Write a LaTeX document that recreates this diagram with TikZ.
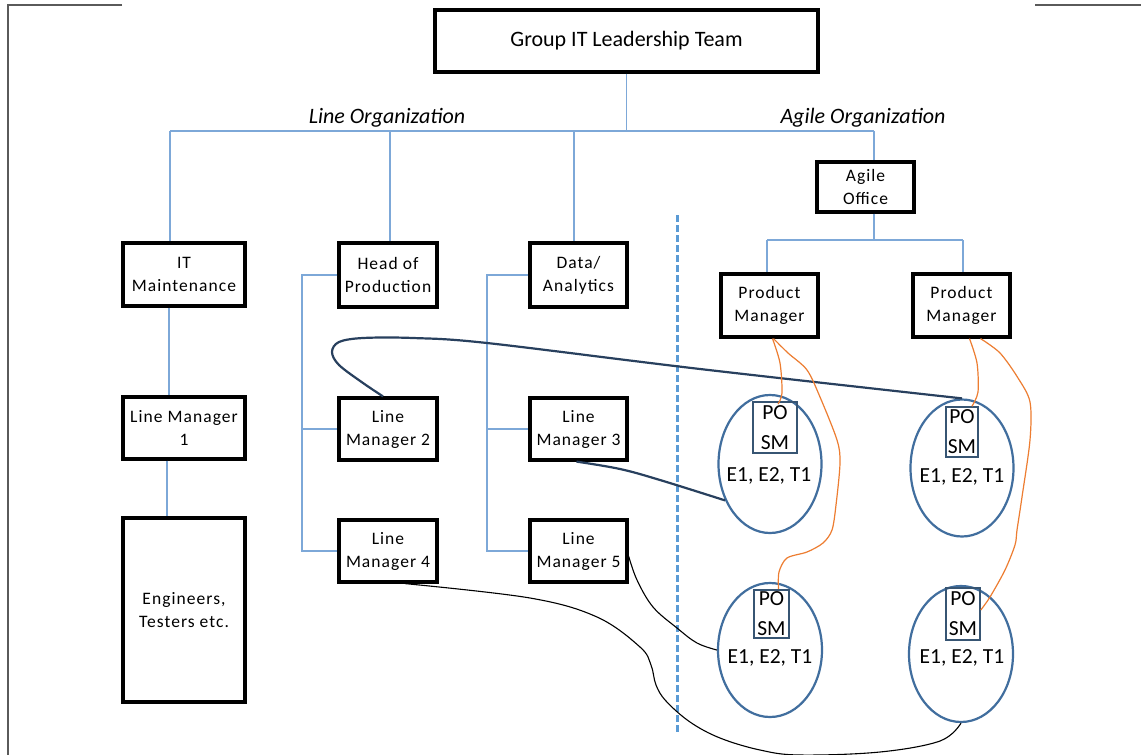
\documentclass[tikz,border=0pt]{standalone}
\usepackage{fontspec}
\setmainfont{Carlito}
\usetikzlibrary{shapes.geometric}
\definecolor{bluelink}{RGB}{125,168,216}
\definecolor{dashblue}{RGB}{91,155,213}
\definecolor{ellblue}{RGB}{65,110,158}
\definecolor{poblue}{RGB}{55,85,115}
\definecolor{navy}{RGB}{40,64,94}
\definecolor{orangec}{RGB}{237,125,49}
\definecolor{framegray}{RGB}{90,90,90}
\tikzset{
  orgbox/.style={draw=black, line width=3.2pt, fill=white, inner sep=0pt, align=center,
    font=\fontsize{17.5}{23}\selectfont\addfontfeature{LetterSpace=6}},
  topbox/.style={draw=black, line width=3.2pt, fill=white, inner sep=0pt, align=center,
    font=\fontsize{22}{26}\selectfont},
  heading/.style={font=\fontsize{22}{26}\selectfont\itshape, inner sep=0pt},
  team/.style={ellipse, draw=ellblue, line width=2.2pt, inner sep=0pt},
  posm/.style={draw=poblue, line width=1.6pt, inner sep=0pt, align=center,
    font=\fontsize{21.5}{30}\selectfont},
  teamtext/.style={font=\fontsize{21.5}{25}\selectfont, inner sep=0pt},
  orgline/.style={draw=bluelink, line width=1.2pt},
  navyline/.style={draw=navy, line width=2.2pt},
  thinline/.style={draw=black, line width=1.1pt},
  orangeline/.style={draw=orangec, line width=1.2pt},
  frameline/.style={draw=framegray, line width=1.3pt}
}
\begin{document}
\begin{tikzpicture}[x=1pt,y=-1pt]
\useasboundingbox[fill=white] (0,0) rectangle (1141,755);

% frame lines
\draw[frameline] (122,5) -- (8,5) -- (8,755);
\draw[frameline] (1035,5) -- (1141,5);

% boxes
\node[topbox, minimum width=383pt, minimum height=62pt] (git) at (626.5,41) {Group IT Leadership Team};
\node[orgbox, minimum width=97pt, minimum height=50pt] (ao) at (865.5,187) {Agile\\Office};
\node[orgbox, minimum width=97pt, minimum height=63pt] (pml) at (769.5,305.5) {Product\\Manager};
\node[orgbox, minimum width=97pt, minimum height=63pt] (pmr) at (961.5,305.5) {Product\\Manager};
\node[orgbox, minimum width=122pt, minimum height=63pt] (itm) at (184,274.5) {IT\\Maintenance};
\node[orgbox, minimum width=122pt, minimum height=62pt] (lm1) at (184,428) {Line Manager\\1};
\node[orgbox, minimum width=122pt, minimum height=184pt] (eng) at (184,610) {Engineers,\\Testers etc.};
\node[orgbox, minimum width=98pt, minimum height=64pt] (hop) at (388,275) {Head of\\Production};
\node[orgbox, minimum width=98pt, minimum height=62pt] (lm2) at (388,429) {Line\\Manager 2};
\node[orgbox, minimum width=98pt, minimum height=62pt] (lm4) at (388,551) {Line\\Manager 4};
\node[orgbox, minimum width=97pt, minimum height=64pt] (dat) at (578.5,275) {Data/\\Analytics};
\node[orgbox, minimum width=97pt, minimum height=62pt] (lm3) at (578.5,429) {Line\\Manager 3};
\node[orgbox, minimum width=97pt, minimum height=62pt] (lm5) at (578.5,551) {Line\\Manager 5};

% headings
\node[heading] (hline) at (387,118) {Line Organization};
\node[heading] (hagile) at (863,118) {Agile Organization};

% teams
\node[team, minimum width=103pt, minimum height=138pt] (tl) at (770,464) {};
\node[team, minimum width=103pt, minimum height=137pt] (tr) at (962,468) {};
\node[team, minimum width=104pt, minimum height=134pt] (bl) at (770,650) {};
\node[team, minimum width=104pt, minimum height=136pt] (br) at (961,654) {};
\node[posm, minimum width=44pt, minimum height=51pt] (potl) at (775,427.5) {PO\\SM};
\node[posm, minimum width=32pt, minimum height=50pt] (potr) at (962,432) {PO\\SM};
\node[posm, minimum width=35pt, minimum height=48pt] (pobl) at (771.5,614) {PO\\SM};
\node[posm, minimum width=34pt, minimum height=52pt] (pobr) at (963,614) {PO\\SM};
\node[teamtext] (ttl) at (769,476) {E1, E2, T1};
\node[teamtext] (ttr) at (962,477) {E1, E2, T1};
\node[teamtext] (tbl) at (770,658) {E1, E2, T1};
\node[teamtext] (tbr) at (962,658) {E1, E2, T1};

% blue org lines
\coordinate (busL) at (170,131);
\coordinate (busR) at (874,131);
\coordinate (dA) at (390,131);
\coordinate (dB) at (574,131);
\coordinate (agbus) at (874,240);
\coordinate (agL) at (767,240);
\coordinate (agR) at (963,240);
\coordinate (brA) at (302,0);
\coordinate (brB) at (487,0);
\coordinate (vA) at (169,0);
\coordinate (vB) at (167,0);
\draw[orgline] (git.south) -- (git.south |- busL);
\draw[orgline] (busL) -- (busR);
\draw[orgline] (busL) -- (busL |- itm.north);
\draw[orgline] (dA) -- (dA |- hop.north);
\draw[orgline] (dB) -- (dB |- dat.north);
\draw[orgline] (busR) -- (busR |- ao.north);
\draw[orgline] (busR |- ao.south) -- (agbus);
\draw[orgline] (agL) -- (agR);
\draw[orgline] (agL) -- (agL |- pml.north);
\draw[orgline] (agR) -- (agR |- pmr.north);
\draw[orgline] (vA |- itm.south) -- (vA |- lm1.north);
\draw[orgline] (vB |- lm1.south) -- (vB |- eng.north);
\draw[orgline] (hop.west) -- (hop.west -| brA) -- (lm4.west -| brA) -- (lm4.west);
\draw[orgline] (lm2.west -| brA) -- (lm2.west);
\draw[orgline] (dat.west) -- (dat.west -| brB) -- (lm5.west -| brB) -- (lm5.west);
\draw[orgline] (lm3.west -| brB) -- (lm3.west);

% dashed divider
\coordinate (dvT) at (677,215);
\coordinate (dvB) at (677,733);
\draw[draw=dashblue, line width=3pt, dash pattern=on 7pt off 3pt] (dvT) -- (dvB);

% navy connectors
\draw[navyline] plot[smooth, tension=0.55] coordinates {([xshift=-5pt]lm2.north) (363,383) (339,365) (332,352) (339,342) (363,338) (413,338) (487,343) (700,369) (tr.north)};
\draw[navyline] plot[smooth, tension=0.6] coordinates {([xshift=-2pt]lm3.south) (620,469) (660,480) (tl.219)};

% thin black connectors
\draw[thinline] plot[smooth, tension=0.6] coordinates {([yshift=-5pt]lm5.east) (637,580) (653,607) (677,628) (697,643) (bl.west)};
\draw[thinline] plot[smooth, tension=0.6] coordinates {([xshift=17pt]lm4.south) (530,598) (597,617) (640,647) (651,665) (656,685) (666,701) (690,722) (720,738) (760,750) (800,755) (880,752) (940,741) (br.south)};

% orange connectors
\draw[orangeline] plot[smooth, tension=0.5] coordinates {([xshift=3pt]pml.south) (780,363) (782,393) (778,404)};
\draw[orangeline] plot[smooth, tension=0.5] coordinates {([xshift=4pt]pml.south) (788,353) (807,370) (820,397) (837,440) (840,463) (836,505) (832,530) (823,543) (807,552) (787,558) (779,572) ([xshift=7pt]pobl.north)};
\draw[orangeline] plot[smooth, tension=0.5] coordinates {([xshift=8pt]pmr.south) (977,363) (978,392) ([xshift=10pt]potr.north)};
\draw[orangeline] plot[smooth, tension=0.5] coordinates {([xshift=19pt]pmr.south) (1000,353) (1018,378) (1030,402) (1030,440) (1022,497) (1017,530) (1015,545) (1005,570) (990,597) ([yshift=4pt]pobr.east)};
\end{tikzpicture}
\end{document}
